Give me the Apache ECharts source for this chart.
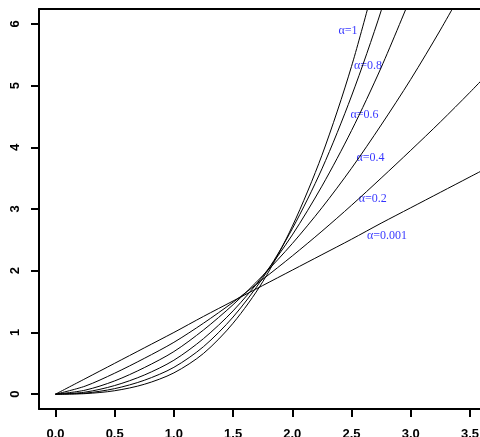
<!DOCTYPE html>
<html>
<head>
<meta charset="utf-8">
<script src="https://cdn.jsdelivr.net/npm/echarts@6/dist/echarts.min.js"></script>
<style>
  html, body { margin: 0; padding: 0; background: #fff; }
  #chart { width: 480px; height: 437px; }
</style>
</head>
<body>
<div id="chart"></div>
<script>
// tick positions
const xTicks = [0, 0.5, 1, 1.5, 2, 2.5, 3, 3.5];
const yTicks = [0, 1, 2, 3, 4, 5, 6];

// common x grid for the curves
const xs = [0, 0.25, 0.5, 0.75, 1, 1.25, 1.5, 1.75, 2, 2.25, 2.5, 2.75, 3, 3.25, 3.5, 3.75];

// curve values (one per alpha)
const yA0001 = [0, 0.25, 0.5, 0.75, 1.0, 1.26, 1.51, 1.76, 2.01, 2.26, 2.51, 2.77, 3.02, 3.27, 3.52, 3.77];
const yA02 = [0, 0.13, 0.34, 0.58, 0.84, 1.15, 1.49, 1.86, 2.24, 2.64, 3.06, 3.50, 3.95, 4.41, 4.89, 5.39];
const yA04 = [0, 0.065, 0.215, 0.43, 0.69, 1.04, 1.45, 1.92, 2.44, 3.02, 3.66, 4.36, 5.10, 5.90, 6.75];
const yA06 = [0, 0.033, 0.14, 0.31, 0.55, 0.90, 1.35, 1.91, 2.58, 3.37, 4.27, 5.29, 6.43];
const yA08 = [0, 0.017, 0.09, 0.225, 0.435, 0.77, 1.25, 1.88, 2.68, 3.65, 4.83, 6.21, 7.82];
const yA1 = [0, 0.009, 0.056, 0.16, 0.345, 0.66, 1.15, 1.82, 2.72, 3.87, 5.31, 7.07];

// curve annotations
const labelText = ['α=1', 'α=0.8', 'α=0.6', 'α=0.4', 'α=0.2', 'α=0.001'];
const labelX = [2.47, 2.64, 2.61, 2.66, 2.68, 2.80];
const labelY = [5.88, 5.32, 4.53, 3.83, 3.16, 2.57];

const curves = [yA0001, yA02, yA04, yA06, yA08, yA1];

function pairs(ys) {
  return ys.map((y, i) => [xs[i], y]);
}

const chart = echarts.init(document.getElementById('chart'), null, { renderer: 'canvas' });

const series = curves.map(ys => ({
  type: 'line',
  data: pairs(ys),
  showSymbol: false,
  symbol: 'none',
  smooth: 0.3,
  clip: true,
  lineStyle: { color: '#000', width: 1 },
  silent: true
}));

series.push({
  type: 'scatter',
  symbolSize: 0,
  data: labelText.map((t, i) => ({ name: t, value: [labelX[i], labelY[i]] })),
  label: {
    show: true,
    position: 'inside',
    formatter: p => p.name,
    color: '#0000ff',
    fontFamily: 'Liberation Serif',
    fontSize: 12
  },
  silent: true
});

const tickFont = {
  color: '#000',
  fontWeight: 'bold',
  fontFamily: 'Liberation Sans',
  fontSize: 13
};

const option = {
  animation: false,
  backgroundColor: '#fff',
  grid: {
    left: 39,
    top: 9,
    right: 0,
    bottom: 28,
    containLabel: false,
    outerBoundsMode: 'none'
  },
  xAxis: [{
    type: 'value',
    min: -0.139,
    max: 3.585,
    position: 'bottom',
    splitLine: { show: false },
    axisLine: { show: true, onZero: false, lineStyle: { color: '#000', width: 2 } },
    axisTick: {
      show: true,
      length: 8,
      customValues: xTicks,
      lineStyle: { color: '#000', width: 2 }
    },
    axisLabel: Object.assign({
      customValues: xTicks,
      formatter: v => v.toFixed(1),
      margin: 19
    }, tickFont)
  }, {
    // top edge of the box
    type: 'value',
    min: -0.139,
    max: 3.585,
    position: 'top',
    splitLine: { show: false },
    axisLine: { show: true, onZero: false, lineStyle: { color: '#000', width: 2 } },
    axisTick: { show: false },
    axisLabel: { show: false }
  }],
  yAxis: {
    type: 'value',
    min: -0.24,
    max: 6.24,
    splitLine: { show: false },
    axisLine: { show: true, onZero: false, lineStyle: { color: '#000', width: 2 } },
    axisTick: {
      show: true,
      length: 8,
      customValues: yTicks,
      lineStyle: { color: '#000', width: 2 }
    },
    axisLabel: Object.assign({
      customValues: yTicks,
      rotate: 90,
      margin: 17
    }, tickFont)
  },
  series: series
};

chart.setOption(option);
</script>
</body>
</html>
